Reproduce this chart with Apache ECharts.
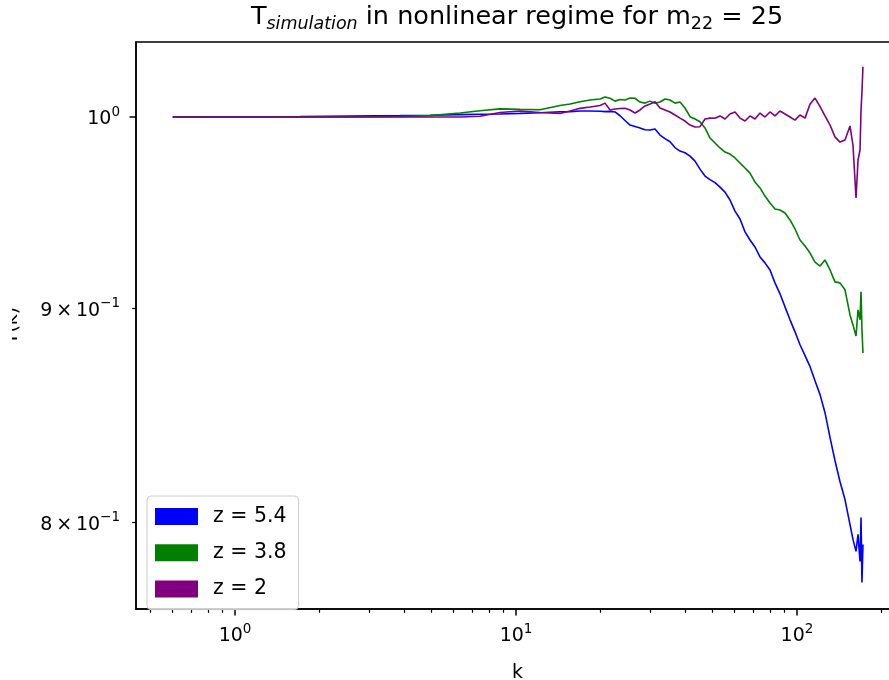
<!DOCTYPE html>
<html>
<head>
<meta charset="utf-8">
<script src="https://cdn.jsdelivr.net/npm/echarts@6/dist/echarts.min.js"></script>
<style>
  html, body { margin: 0; padding: 0; background: #fff; }
  #chart { width: 889px; height: 680px; }
</style>
</head>
<body>
<div id="chart"></div>
<script>
// wavenumbers k
const kValues = [
  0.6, 1.70, 2.57, 3.87, 4.94, 6.32, 7.44, 8.77, 10.33, 12.17,
  14.34, 15.57, 16.90, 18.34, 19.91, 20.74, 21.61, 22.51, 23.45, 24.43,
  25.45, 26.51, 27.62, 28.78, 29.99, 31.24, 32.54, 33.90, 35.32, 36.80,
  38.34, 39.94, 41.61, 43.35, 45.16, 47.05, 49.02, 51.07, 53.21, 55.43,
  57.75, 60.17, 62.68, 65.31, 68.04, 70.88, 73.85, 76.93, 80.15, 83.51,
  87.00, 90.64, 94.43, 98.38, 102.5, 106.8, 111.3, 115.9, 120.8, 125.8,
  131.1, 136.5, 142.2, 148.2, 154.4, 158.2, 162.2, 164.9, 167.6, 169.0,
  170.3, 171.7
];

// T(k) for z = 5.4
const tZ54 = [
  1.0000, 1.0002, 1.0005, 1.0008, 1.0010, 1.0013, 1.0015, 1.0017, 1.0020, 1.0024,
  1.0029, 1.0030, 1.0033, 1.0033, 1.0032, 1.0030, 1.0031, 1.0028, 1.0007, 0.9981,
  0.9956, 0.9948, 0.9940, 0.9930, 0.9929, 0.9934, 0.9901, 0.9882, 0.9865, 0.9833,
  0.9814, 0.9805, 0.9787, 0.9760, 0.9717, 0.9680, 0.9661, 0.9645, 0.9621, 0.9595,
  0.9553, 0.9495, 0.9454, 0.9387, 0.9345, 0.9309, 0.9258, 0.9228, 0.9192, 0.9127,
  0.9072, 0.9007, 0.8943, 0.8884, 0.8821, 0.8768, 0.8715, 0.8648, 0.8582, 0.8497,
  0.8381, 0.8276, 0.8181, 0.8100, 0.7989, 0.7924, 0.7872, 0.7946, 0.7828, 0.8020,
  0.7738, 0.7902
];

// T(k) for z = 3.8
const tZ38 = [
  1.0000, 1.0000, 1.0001, 1.0003, 1.0008, 1.0022, 1.0035, 1.0045, 1.0042, 1.0040,
  1.0064, 1.0072, 1.0085, 1.0094, 1.0100, 1.0111, 1.0104, 1.0088, 1.0097, 1.0094,
  1.0105, 1.0104, 1.0083, 1.0077, 1.0088, 1.0076, 1.0083, 1.0100, 1.0094, 1.0077,
  1.0083, 1.0050, 1.0002, 0.9989, 0.9974, 0.9940, 0.9885, 0.9858, 0.9831, 0.9809,
  0.9798, 0.9777, 0.9750, 0.9723, 0.9696, 0.9648, 0.9617, 0.9574, 0.9537, 0.9506,
  0.9501, 0.9485, 0.9449, 0.9402, 0.9345, 0.9314, 0.9278, 0.9232, 0.9212, 0.9243,
  0.9192, 0.9132, 0.9127, 0.9092, 0.8967, 0.8918, 0.8864, 0.8992, 0.8943, 0.9082,
  0.8894, 0.8781
];

// T(k) for z = 2
const tZ2 = [
  1.0000, 1.0000, 1.0000, 1.0000, 1.0000, 1.0000, 1.0004, 1.0025, 1.0033, 1.0025,
  1.0020, 1.0033, 1.0048, 1.0055, 1.0064, 1.0077, 1.0039, 1.0044, 1.0047, 1.0048,
  1.0039, 1.0022, 1.0039, 1.0061, 1.0072, 1.0085, 1.0050, 1.0039, 1.0028, 1.0011,
  0.9994, 0.9978, 0.9956, 0.9945, 0.9947, 0.9989, 0.9994, 0.9993, 1.0006, 0.9989,
  1.0017, 1.0028, 0.9994, 0.9978, 1.0006, 0.9989, 1.0022, 1.0000, 1.0028, 1.0006,
  1.0033, 1.0017, 1.0000, 0.9983, 1.0011, 0.9994, 1.0072, 1.0105, 1.0057, 1.0006,
  0.9956, 0.9891, 0.9863, 0.9874, 0.9951, 0.9847, 0.9564, 0.9766, 0.9820, 1.0039,
  1.0139, 1.0281
];

const seriesNames = ['z = 5.4', 'z = 3.8', 'z = 2'];
const seriesColors = ['#0000ff', '#008000', '#800080'];

// tick positions
const xMajorTicks = [1, 10, 100];
const xMinorTicks = [0.5, 0.6, 0.7, 0.8, 0.9, 2, 3, 4, 5, 6, 7, 8, 9,
  20, 30, 40, 50, 60, 70, 80, 90, 200];
const yMajorTicks = [1];
const yMinorTicks = [0.8, 0.9];

const FONT = 'DejaVu Sans';
const X_MIN = 0.444, X_MAX = 230.7;
const Y_MIN = 0.7626, Y_MAX = 1.0422;

const chart = echarts.init(document.getElementById('chart'), null, { renderer: 'canvas' });

const supRich = {
  b: { fontFamily: FONT, fontSize: 19, color: '#000', lineHeight: 24, verticalAlign: 'bottom' },
  s: { fontFamily: FONT, fontSize: 13.5, color: '#000', lineHeight: 14, verticalAlign: 'top' }
};

function xLabel(v) {
  const e = Math.round(Math.log10(v));
  return '{b|10}{s|' + e + '}';
}

function yLabel(v) {
  const e = Math.floor(Math.log10(v) + 1e-9);
  const m = Math.round(v / Math.pow(10, e));
  const ee = e < 0 ? '\u2212' + (-e) : '' + e;
  if (m === 1) return '{b|10}{s|' + ee + '}';
  return '{b|' + m + '\u2009\u00d7\u200910}{s|' + ee + '}';
}

const lineSeries = [tZ54, tZ38, tZ2].map((vals, i) => ({
  name: seriesNames[i],
  type: 'line',
  xAxisIndex: 0,
  yAxisIndex: 0,
  data: kValues.map((k, j) => [k, vals[j]]),
  showSymbol: false,
  symbol: 'none',
  lineStyle: { color: seriesColors[i], width: 1.6 },
  itemStyle: { color: seriesColors[i] },
  z: 2 + i
}));

const plainTitle = { fontFamily: FONT, fontWeight: 'normal', color: '#000' };

chart.setOption({
  animation: false,
  backgroundColor: '#fff',
  title: {
    text: '{a|T}{s|simulation}{a| in nonlinear regime for m}{n|22}{a| = 25}',
    left: 517,
    top: 1,
    textAlign: 'center',
    padding: 0,
    textStyle: {
      fontWeight: 'normal',
      rich: {
        a: Object.assign({ fontSize: 25.5, lineHeight: 32 }, plainTitle),
        s: Object.assign({ fontSize: 17.5, fontStyle: 'italic', lineHeight: 17, verticalAlign: 'bottom' }, plainTitle),
        n: Object.assign({ fontSize: 17.5, lineHeight: 17, verticalAlign: 'bottom' }, plainTitle)
      }
    }
  },
  legend: {
    data: seriesNames,
    orient: 'vertical',
    left: 147,
    top: 496,
    padding: [10, 12, 10, 8],
    itemWidth: 43,
    itemHeight: 17,
    itemGap: 15.3,
    icon: 'rect',
    backgroundColor: 'rgba(255,255,255,0.8)',
    borderColor: '#cccccc',
    borderWidth: 1,
    borderRadius: 4,
    selectedMode: false,
    textStyle: { fontFamily: FONT, fontSize: 20.5, color: '#000', lineHeight: 17, padding: [0, 0, 0, 10] }
  },
  grid: {
    left: 136,
    right: -10,
    top: 42,
    bottom: 71,
    outerBoundsMode: 'none',
    show: true,
    borderColor: '#000',
    borderWidth: 1.5,
    containLabel: false
  },
  // hides the left part of the rotated y name, as the figure edge cuts it in the reference
  graphic: [{
    type: 'rect',
    left: 0,
    top: 290,
    shape: { width: 12, height: 70 },
    style: { fill: '#fff' },
    z: 100
  }],
  xAxis: [
    {
      type: 'log',
      logBase: 10,
      min: X_MIN,
      max: X_MAX,
      position: 'bottom',
      name: 'k',
      nameLocation: 'middle',
      nameGap: 55,
      nameTextStyle: { fontFamily: FONT, fontSize: 19, color: '#000' },
      axisLine: { show: true, lineStyle: { color: '#000', width: 1.5 } },
      axisTick: { show: true, customValues: xMajorTicks, length: 6.5, lineStyle: { color: '#000', width: 1.5 } },
      axisLabel: { show: true, customValues: xMajorTicks, margin: 13, formatter: xLabel, rich: supRich },
      splitLine: { show: false },
      minorTick: { show: false }
    },
    {
      type: 'log',
      logBase: 10,
      min: X_MIN,
      max: X_MAX,
      position: 'bottom',
      axisLine: { show: false },
      axisTick: { show: true, customValues: xMinorTicks, length: 3.8, lineStyle: { color: '#000', width: 1.2 } },
      axisLabel: { show: false },
      splitLine: { show: false }
    }
  ],
  yAxis: [
    {
      type: 'log',
      logBase: 10,
      min: Y_MIN,
      max: Y_MAX,
      position: 'left',
      name: 'T(k)',
      nameLocation: 'middle',
      nameGap: 114,
      nameRotate: 90,
      nameTextStyle: { fontFamily: FONT, fontSize: 19, color: '#000' },
      axisLine: { show: true, lineStyle: { color: '#000', width: 1.5 } },
      axisTick: { show: true, customValues: yMajorTicks, length: 6.5, lineStyle: { color: '#000', width: 1.5 } },
      axisLabel: { show: true, customValues: yMajorTicks.concat(yMinorTicks), margin: 16, formatter: yLabel, rich: supRich },
      splitLine: { show: false }
    },
    {
      type: 'log',
      logBase: 10,
      min: Y_MIN,
      max: Y_MAX,
      position: 'left',
      axisLine: { show: false },
      axisTick: { show: true, customValues: yMinorTicks, length: 3.8, lineStyle: { color: '#000', width: 1.2 } },
      axisLabel: { show: false },
      splitLine: { show: false }
    }
  ],
  series: lineSeries
});
</script>
</body>
</html>
